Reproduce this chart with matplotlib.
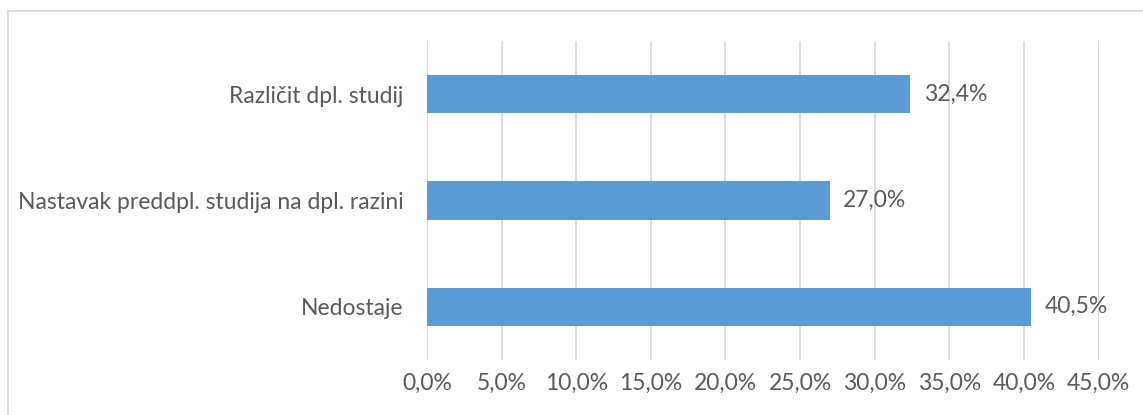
import matplotlib.pyplot as plt
from matplotlib.lines import Line2D
from matplotlib.ticker import FuncFormatter

kategorije = ["Nedostaje", "Nastavak preddpl. studija na dpl. razini", "Različit dpl. studij"]
vrijednosti = [40.5, 27.0, 32.4]
oznake_x = [0, 5, 10, 15, 20, 25, 30, 35, 40, 45]

plt.rcParams["font.family"] = ["Lato", "DejaVu Sans"]
siva = "#595959"
vel = 16.5

W, H = 1143, 415
fig = plt.figure(figsize=(W / 100, H / 100), dpi=100)
ax = fig.add_axes([427 / W, 1 - 360 / H, (1098.5 - 427) / W, (360 - 41) / H])

ax.barh(range(len(kategorije)), vrijednosti, height=0.36, color="#5B9BD5", zorder=3)
for i, v in enumerate(vrijednosti):
    ax.text(v + 0.9, i, f"{v:.1f}%".replace(".", ","), va="center", ha="left",
            fontsize=vel, color=siva)

ax.set_xlim(0, 45)
ax.set_ylim(-0.5, len(kategorije) - 0.5)
ax.set_xticks(oznake_x)
ax.xaxis.set_major_formatter(FuncFormatter(lambda x, p: f"{x:.1f}%".replace(".", ",")))
ax.set_yticks(range(len(kategorije)))
ax.set_yticklabels(kategorije)
ax.tick_params(axis="both", length=0, labelsize=vel, colors=siva)
ax.tick_params(axis="x", pad=9)
ax.tick_params(axis="y", pad=17)
ax.grid(axis="x", color="#D9D9D9", linewidth=1.3, zorder=0)
for s in ax.spines.values():
    s.set_visible(False)

# okvir grafikona
fig.add_artist(Line2D([8 / W, 1], [1 - 11 / H, 1 - 11 / H], color="#D9D9D9", linewidth=1.3))
fig.add_artist(Line2D([8 / W, 8 / W], [0, 1 - 11 / H], color="#D9D9D9", linewidth=1.3))

fig.savefig("out.png", dpi=100)
